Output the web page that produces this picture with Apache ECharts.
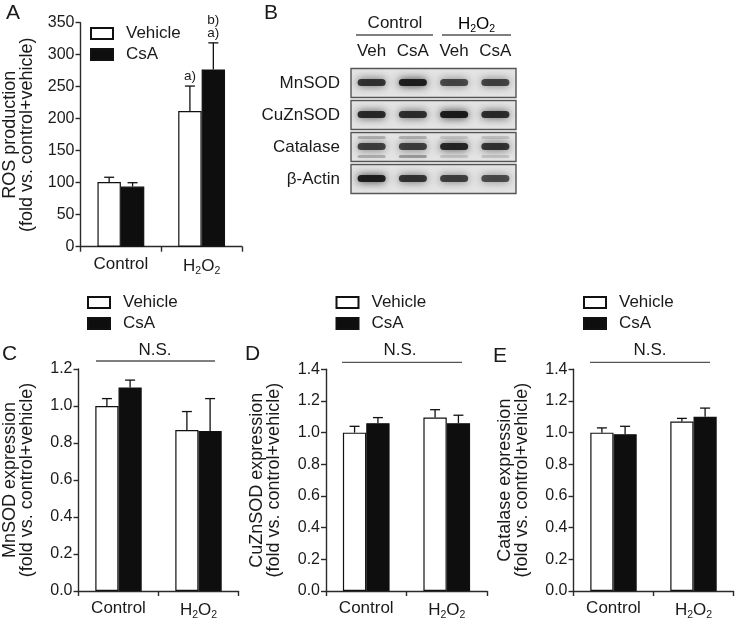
<!DOCTYPE html>
<html><head><meta charset="utf-8">
<script src="https://cdn.jsdelivr.net/npm/echarts@6/dist/echarts.min.js"></script>
<style>html,body{margin:0;padding:0;background:#fff}#c{width:735px;height:621px}</style>
</head><body><div id="c"></div>
<script>
// ---------- data ----------
const categories = ['Control', 'H2O2'];
const legendNames = ['Vehicle', 'CsA'];

// Panel A: ROS production (fold vs. control+vehicle)
const rosVehicle = [101, 212];
const rosVehicleSem = [7.5, 39];
const rosCsA = [94, 277];
const rosCsASem = [6, 41.5];
const rosVehicleSig = ['', 'a)'];
const rosCsASig = ['', 'b)\na)'];
const rosTicks = [0, 350, 50];

// Panel C: MnSOD expression
const mnVehicle = [1.00, 0.87];
const mnVehicleSem = [0.04, 0.10];
const mnCsA = [1.10, 0.865];
const mnCsASem = [0.04, 0.175];
const mnTicks = [0, 1.2, 0.2];

// Panel D: CuZnSOD expression
const cuVehicle = [1.00, 1.095];
const cuVehicleSem = [0.04, 0.05];
const cuCsA = [1.06, 1.06];
const cuCsASem = [0.035, 0.05];
const cuTicks = [0, 1.4, 0.2];

// Panel E: Catalase expression
const catVehicle = [1.00, 1.07];
const catVehicleSem = [0.03, 0.02];
const catCsA = [0.99, 1.10];
const catCsASem = [0.05, 0.055];
const catTicks = [0, 1.4, 0.2];

// Panel B: western blot
const blotLanes = ['Veh', 'CsA', 'Veh', 'CsA'];
const blotGroups = ['Control', 'H2O2'];
const blotRows = ['MnSOD', 'CuZnSOD', 'Catalase', 'β-Actin'];
const bandMnSOD = [0.80, 0.93, 0.70, 0.72];
const bandCuZnSOD = [0.86, 0.83, 0.95, 0.84];
const bandCatalase = [0.74, 0.74, 0.88, 0.80];
const bandCatalaseUpper = [0.22, 0.22, 0.12, 0.14];
const bandCatalaseLower = [0.24, 0.32, 0.14, 0.14];
const bandActin = [0.92, 0.80, 0.74, 0.68];

// ---------- helpers ----------
const FONT = '"Liberation Sans", Arial, Helvetica, sans-serif';
const INK = '#1a1a1a';
const AXIS = '#2a2a2a';
const BAR_FRAC = 0.29;

const grids = [
  {left: 80, top: 22.7, width: 162, height: 224},     // A
  {left: 78.5, top: 369, width: 160, height: 224.3},  // C
  {left: 326, top: 369.3, width: 161, height: 223.4}, // D
  {left: 573.5, top: 369.3, width: 160, height: 223.4}, // E
  {left: 351, top: 67, width: 165, height: 128}       // B blot
];

function catLabelFmt(v) { return v === 'H2O2' ? '{n|H}{s|2}{n|O}{s|2}' : '{n|' + v + '}'; }
const richSub = {
  n: {fontSize: 17, fontFamily: FONT, color: INK},
  s: {fontSize: 10.5, fontFamily: FONT, color: INK, padding: [10, 0, 0, 0]}
};

function xAxisCfg(g) {
  return {
    type: 'category', gridIndex: g, data: categories,
    axisLine: {show: true, lineStyle: {color: AXIS, width: 1.4}},
    axisTick: {show: true, length: 5, lineStyle: {color: AXIS, width: 1.4}},
    axisLabel: {margin: 9, interval: 0, hideOverlap: false, formatter: catLabelFmt, rich: richSub},
    splitLine: {show: false}
  };
}
function yAxisCfg(g, ticks, dec, name, nameGap) {
  return {
    type: 'value', gridIndex: g, min: ticks[0], max: ticks[1], interval: ticks[2],
    axisLine: {show: true, lineStyle: {color: AXIS, width: 1.4}},
    axisTick: {show: true, length: 5, lineStyle: {color: AXIS, width: 1.4}},
    splitLine: {show: false},
    axisLabel: {color: INK, fontSize: 16, fontFamily: FONT, margin: 6,
      formatter: v => Number(v).toFixed(dec)},
    name: name, nameLocation: 'middle', nameRotate: 90, nameGap: nameGap,
    nameTextStyle: {color: INK, fontSize: 18, lineHeight: 17, fontFamily: FONT}
  };
}
function barSeries(g, name, vals) {
  const white = name === 'Vehicle';
  return {
    type: 'bar', name: name, xAxisIndex: g, yAxisIndex: g, data: vals,
    barWidth: (BAR_FRAC * 100) + '%', barGap: '0%', silent: true,
    itemStyle: {color: white ? '#fff' : '#0e0e0e', borderColor: '#111', borderWidth: 1.2}
  };
}
function errSeries(g, vals, sems, side, sig) {
  return {
    type: 'custom', xAxisIndex: g, yAxisIndex: g, z: 4, silent: true,
    data: vals.map((v, i) => [i, v, v + sems[i]]),
    renderItem: function (params, api) {
      const i = api.value(0);
      const p0 = api.coord([i, api.value(1)]);
      const p1 = api.coord([i, api.value(2)]);
      const catW = api.size([1, 0])[0];
      const x = p0[0] + side * catW * BAR_FRAC / 2;
      const children = [
        {type: 'line', shape: {x1: x, y1: p0[1], x2: x, y2: p1[1]}, style: {stroke: '#111', lineWidth: 1.3}},
        {type: 'line', shape: {x1: x - 5, y1: p1[1], x2: x + 5, y2: p1[1]}, style: {stroke: '#111', lineWidth: 1.3}}
      ];
      const t = sig ? sig[params.dataIndex] : '';
      if (t) {
        children.push({type: 'text', x: x, y: p1[1] - 3,
          style: {text: t, fill: INK, font: '13.5px ' + FONT, align: 'center', verticalAlign: 'bottom', lineHeight: 13}});
      }
      return {type: 'group', children: children};
    }
  };
}
function legendCfg(left, top) {
  return {
    data: legendNames, left: left, top: top, orient: 'vertical', padding: 0,
    icon: 'rect', itemWidth: 22, itemHeight: 11, itemGap: 4, selectedMode: false,
    textStyle: {color: INK, fontSize: 17, fontFamily: FONT, padding: [0, 0, 0, 8]}
  };
}

// blot data assembly
const blotBands = [];
[bandMnSOD, bandCuZnSOD, bandCatalase, bandActin].forEach((row, r) => {
  row.forEach((v, l) => blotBands.push([l, r, v, 0]));
});
bandCatalaseUpper.forEach((v, l) => blotBands.push([l, 2, v, -1]));
bandCatalaseLower.forEach((v, l) => blotBands.push([l, 2, v, 1]));

const option = {
  animation: false,
  backgroundColor: '#fff',
  textStyle: {fontFamily: FONT},
  grid: grids.map(g => Object.assign({containLabel: false}, g)),
  legend: [legendCfg(90, 25), legendCfg(87, 294), legendCfg(335.5, 294), legendCfg(583, 294)],
  xAxis: [
    xAxisCfg(0), xAxisCfg(1), xAxisCfg(2), xAxisCfg(3),
    {type: 'category', gridIndex: 4, data: blotLanes, position: 'top',
      axisLine: {show: false}, axisTick: {show: false},
      axisLabel: {color: INK, fontSize: 17, fontFamily: FONT, margin: 7, interval: 0}}
  ],
  yAxis: [
    yAxisCfg(0, rosTicks, 0, 'ROS production\n(fold vs. control+vehicle)', 45),
    yAxisCfg(1, mnTicks, 1, 'MnSOD expression\n(fold vs. control+vehicle)', 43),
    yAxisCfg(2, cuTicks, 1, 'CuZnSOD expression\n(fold vs. control+vehicle)', 43),
    yAxisCfg(3, catTicks, 1, 'Catalase expression\n(fold vs. control+vehicle)', 43),
    {type: 'category', gridIndex: 4, data: blotRows, inverse: true,
      axisLine: {show: false}, axisTick: {show: false},
      axisLabel: {color: INK, fontSize: 17, fontFamily: FONT, margin: 11, interval: 0}}
  ],
  series: [
    barSeries(0, 'Vehicle', rosVehicle), barSeries(0, 'CsA', rosCsA),
    errSeries(0, rosVehicle, rosVehicleSem, -1, rosVehicleSig),
    errSeries(0, rosCsA, rosCsASem, 1, rosCsASig),
    barSeries(1, 'Vehicle', mnVehicle), barSeries(1, 'CsA', mnCsA),
    errSeries(1, mnVehicle, mnVehicleSem, -1), errSeries(1, mnCsA, mnCsASem, 1),
    barSeries(2, 'Vehicle', cuVehicle), barSeries(2, 'CsA', cuCsA),
    errSeries(2, cuVehicle, cuVehicleSem, -1), errSeries(2, cuCsA, cuCsASem, 1),
    barSeries(3, 'Vehicle', catVehicle), barSeries(3, 'CsA', catCsA),
    errSeries(3, catVehicle, catVehicleSem, -1), errSeries(3, catCsA, catCsASem, 1),
    // blot frames
    {type: 'custom', xAxisIndex: 4, yAxisIndex: 4, silent: true, z: 1,
      data: blotRows.map((r, i) => [0, i]),
      renderItem: function (params, api) {
        const c = api.coord([0, api.value(1)]);
        const rowH = api.size([0, 1])[1];
        const cs = params.coordSys;
        return {type: 'rect', shape: {x: cs.x, y: c[1] - rowH / 2 + 1.5, width: cs.width, height: rowH - 3},
          style: {fill: '#e4e4e4', stroke: '#555', lineWidth: 1.4}};
      }},
    // blot bands
    {type: 'custom', xAxisIndex: 4, yAxisIndex: 4, silent: true, z: 2,
      data: blotBands,
      renderItem: function (params, api) {
        const c = api.coord([api.value(0), api.value(1)]);
        const rowH = api.size([0, 1])[1];
        const laneW = api.size([1, 0])[0];
        const kind = api.value(3);
        const a = api.value(2);
        const w = laneW * 0.68;
        const h = kind === 0 ? 7 : 3;
        const cy = c[1] + (kind === 0 ? -0.5 : kind * rowH * 0.3);
        const col = 'rgba(20,20,20,' + a + ')';
        return {type: 'rect', shape: {x: c[0] - w / 2, y: cy - h / 2, width: w, height: h, r: h / 2},
          style: {fill: col, shadowBlur: 8, shadowColor: col}};
      }}
  ],
  graphic: [
    {type: 'text', x: 6, y: 3, style: {text: 'A', font: '21px ' + FONT, fill: INK}},
    {type: 'text', x: 264, y: 3, style: {text: 'B', font: '21px ' + FONT, fill: INK}},
    {type: 'text', x: 2, y: 344, style: {text: 'C', font: '21px ' + FONT, fill: INK}},
    {type: 'text', x: 245, y: 344, style: {text: 'D', font: '21px ' + FONT, fill: INK}},
    {type: 'text', x: 493, y: 346, style: {text: 'E', font: '21px ' + FONT, fill: INK}},
    // blot group headers
    {type: 'text', x: 395, y: 23, style: {text: blotGroups[0], font: '17px ' + FONT, fill: INK, align: 'center', verticalAlign: 'middle'}},
    {type: 'text', x: 476.5, y: 24, style: {text: '{n|H}{s|2}{n|O}{s|2}', rich: richSub, align: 'center', verticalAlign: 'middle'}},
    {type: 'line', shape: {x1: 356, y1: 35, x2: 433, y2: 35}, style: {stroke: '#555', lineWidth: 1.3}},
    {type: 'line', shape: {x1: 442, y1: 35, x2: 511, y2: 35}, style: {stroke: '#555', lineWidth: 1.3}},
    // N.S. annotations
    {type: 'line', shape: {x1: 96, y1: 361, x2: 215, y2: 361}, style: {stroke: '#555', lineWidth: 1.3}},
    {type: 'text', x: 155, y: 350, style: {text: 'N.S.', font: '17px ' + FONT, fill: INK, align: 'center', verticalAlign: 'middle'}},
    {type: 'line', shape: {x1: 342, y1: 362.3, x2: 462, y2: 362.3}, style: {stroke: '#555', lineWidth: 1.3}},
    {type: 'text', x: 400, y: 350, style: {text: 'N.S.', font: '17px ' + FONT, fill: INK, align: 'center', verticalAlign: 'middle'}},
    {type: 'line', shape: {x1: 590, y1: 362.3, x2: 710, y2: 362.3}, style: {stroke: '#555', lineWidth: 1.3}},
    {type: 'text', x: 650, y: 350, style: {text: 'N.S.', font: '17px ' + FONT, fill: INK, align: 'center', verticalAlign: 'middle'}}
  ]
};

const chart = echarts.init(document.getElementById('c'), null, {renderer: 'canvas'});
chart.setOption(option);
</script>
</body></html>
